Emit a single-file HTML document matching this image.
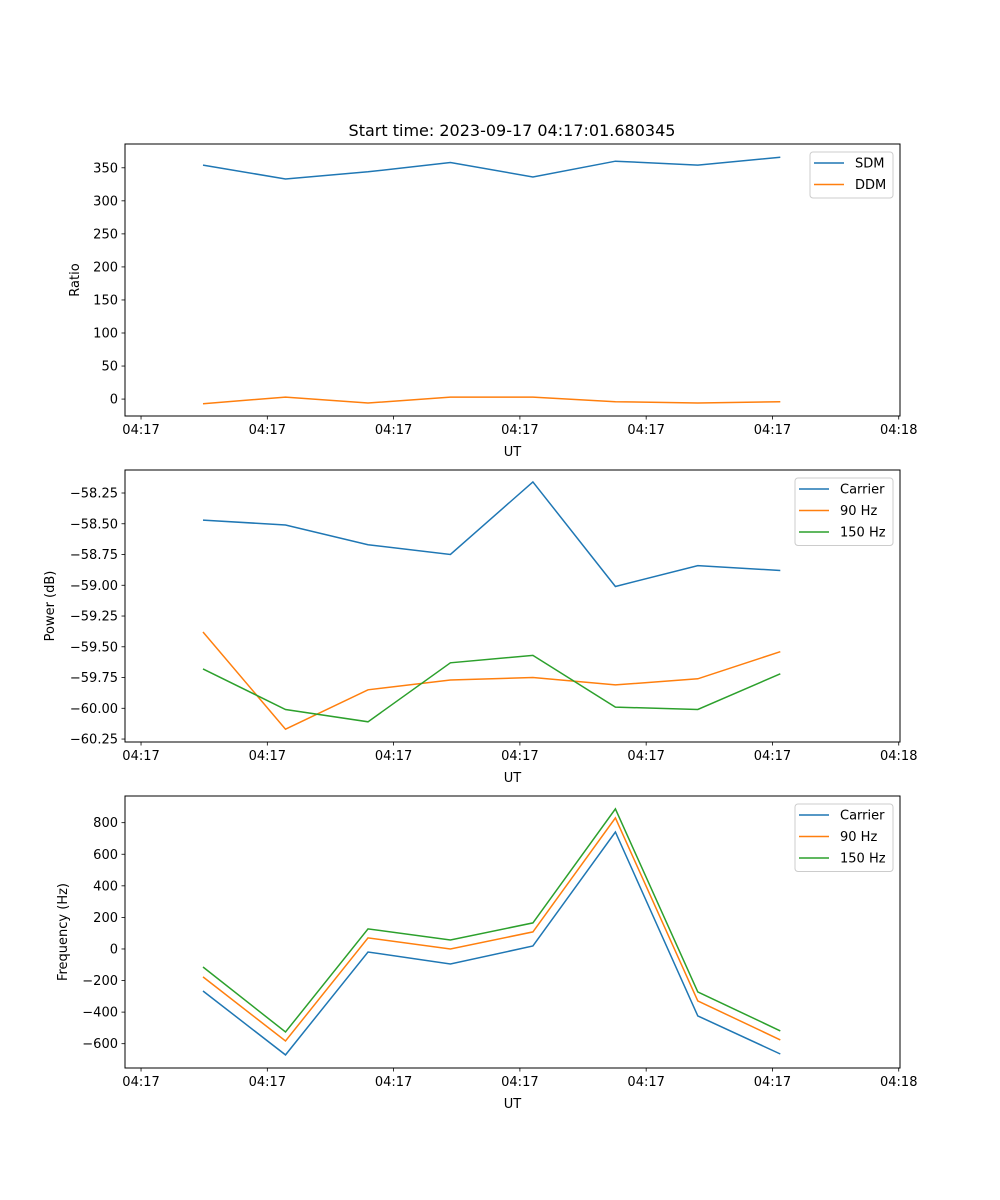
<!DOCTYPE html>
<html><head><meta charset="utf-8"><style>
body{margin:0;background:#fff}
svg{display:block;font-family:"DejaVu Sans","Liberation Sans",sans-serif}
</style></head><body>
<svg id="fig" width="1000" height="1200" viewBox="0 0 1000 1200" xmlns="http://www.w3.org/2000/svg">
<rect width="1000" height="1200" fill="#fff"/>
<text x="512" y="136" font-size="16" text-anchor="middle">Start time: 2023-09-17 04:17:01.680345</text>
</svg>
<script>
const times=[4.91,11.44,17.97,24.5,31.03,37.56,44.09,50.62];
const xTickVals=[0,10,20,30,40,50,60];
const xTickLabels=["04:17","04:17","04:17","04:17","04:17","04:17","04:18"];
const sdm=[354,333,344,358,336,360,354,366];
const ddm=[-7,3,-6,3,3,-4,-6,-4];
const powCarrier=[-58.47,-58.51,-58.67,-58.75,-58.16,-59.01,-58.84,-58.88];
const pow90=[-59.38,-60.17,-59.85,-59.77,-59.75,-59.81,-59.76,-59.54];
const pow150=[-59.68,-60.01,-60.11,-59.63,-59.57,-59.99,-60.01,-59.72];
const freqCarrier=[-266,-671,-19,-95,19,741,-424,-665];
const freq90=[-177,-583,70,0,108,830,-329,-576];
const freq150=[-114,-526,127,57,165,887,-272,-519];
const ratioTicks=[0,50,100,150,200,250,300,350];
const powTicks=[-58.25,-58.5,-58.75,-59,-59.25,-59.5,-59.75,-60,-60.25];
const freqTicks=[-600,-400,-200,0,200,400,600,800];

const NS="http://www.w3.org/2000/svg";
const svg=document.getElementById('fig');
function mk(tag,attrs,parent){const e=document.createElementNS(NS,tag);for(const k in attrs)e.setAttribute(k,attrs[k]);(parent||svg).appendChild(e);return e;}
const L=125,R=900,xMin=-1.27,xMax=60.1;
function xs(t){return L+(t-xMin)/(xMax-xMin)*(R-L);}
const C=['#1f77b4','#ff7f0e','#2ca02c'];

function panel(name,top,bot,yMin,yMax,ticks,fmt,ylabel,series,names,leg,yx){
  const g=mk('g',{});
  
  
  const ys=v=>bot-(v-yMin)/(yMax-yMin)*(bot-top);
  series.forEach((s,i)=>{
    const p=mk('polyline',{points:s.map((v,j)=>xs(times[j]).toFixed(1)+','+ys(v).toFixed(1)).join(' '),fill:'none',stroke:C[i],'stroke-width':1.5},g);
    
    
  });
  const fr=mk('rect',{x:L,y:top,width:R-L,height:bot-top,fill:'none',stroke:'#000','stroke-width':1},g);
  
  
  xTickVals.forEach((t,i)=>{
    const x=xs(t);
    mk('line',{x1:x,x2:x,y1:bot,y2:bot+3.5,stroke:'#000','stroke-width':0.8},g);
    const tx=mk('text',{x:x,y:bot+18,'font-size':13,'text-anchor':'middle'},g);
    tx.textContent=xTickLabels[i];
    
    
  });
  const xl=mk('text',{x:(L+R)/2,y:bot+40,'font-size':13,'text-anchor':'middle'},g);
  xl.textContent='UT';
  
  
  ticks.forEach(v=>{
    const y=ys(v);
    mk('line',{x1:L-3.5,x2:L,y1:y,y2:y,stroke:'#000','stroke-width':0.8},g);
    const tx=mk('text',{x:L-7,y:y+4.5,'font-size':13,'text-anchor':'end'},g);
    tx.textContent=fmt(v);
    
    
  });
  const yl=mk('text',{x:yx,y:(top+bot)/2,'font-size':13,'text-anchor':'middle',transform:'rotate(-90 '+yx+' '+(top+bot)/2+')'},g);
  yl.textContent=ylabel;
  
  
  const lg=mk('g',{},g);
  
  
  mk('rect',{x:leg[0],y:top+8,width:R-7-leg[0],height:names.length*21.5+3,rx:3,fill:'#fff',stroke:'#ccc','stroke-width':1},lg);
  names.forEach((n,i)=>{
    const y=top+19+i*21.5;
    mk('line',{x1:leg[0]+4,x2:leg[0]+34,y1:y,y2:y,stroke:C[i],'stroke-width':1.5},lg);
    const t=mk('text',{x:leg[0]+45,y:y+4.5,'font-size':13},lg);
    t.textContent=n;
    
    
  });
}
panel('ratio',144,416,-25.6,386,ratioTicks,v=>String(v),'Ratio',[sdm,ddm],['SDM','DDM'],[810],79);
panel('power',470,742,-60.274,-58.063,powTicks,v=>v.toFixed(2).replace('-','−'),'Power (dB)',[powCarrier,pow90,pow150],['Carrier','90 Hz','150 Hz'],[795],54);
panel('frequency',796,1068,-754,969,freqTicks,v=>String(v).replace('-','−'),'Frequency (Hz)',[freqCarrier,freq90,freq150],['Carrier','90 Hz','150 Hz'],[795],67);
</script>
</body></html>
